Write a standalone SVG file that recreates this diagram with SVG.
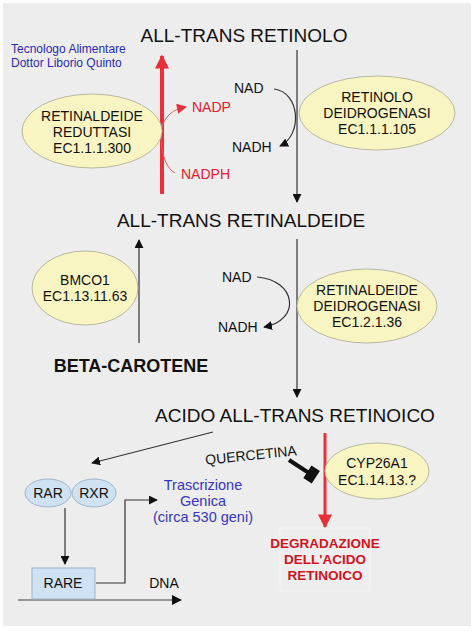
<svg xmlns="http://www.w3.org/2000/svg" width="474" height="631" viewBox="0 0 474 631">
<style>
text{font-family:"Liberation Sans",Arial,sans-serif;text-anchor:middle}
.title{font-size:19px;fill:#111}
.enz{font-size:14px;fill:#111}
.co{font-size:14px;fill:#111;text-anchor:start}
.red{fill:#e0202a}
.ell{fill:#f8f5c2;stroke:#b8b8a0;stroke-width:1}
.blue{fill:#cfe2f3;stroke:#9fb4c6;stroke-width:1}
.ln{fill:none;stroke:#333;stroke-width:1.2}
.tr{font-size:14.5px;fill:#3535c0}
</style>
<defs>
<marker id="ah" viewBox="0 0 10 10" refX="9" refY="5" markerWidth="9" markerHeight="9" markerUnits="userSpaceOnUse" orient="auto"><path d="M0,0L10,5L0,10z" fill="#111"/></marker>
<marker id="ahb" viewBox="0 0 10 10" refX="9" refY="5" markerWidth="12" markerHeight="10" markerUnits="userSpaceOnUse" orient="auto"><path d="M0,0L10,5L0,10z" fill="#111"/></marker>
<marker id="ahr" viewBox="0 0 10 10" refX="9" refY="5" markerWidth="12" markerHeight="10" markerUnits="userSpaceOnUse" orient="auto"><path d="M0,0L10,5L0,10z" fill="#e8303a"/></marker>
<marker id="ahR" viewBox="0 0 10 10" refX="9" refY="5" markerWidth="16" markerHeight="14" markerUnits="userSpaceOnUse" orient="auto"><path d="M0,0L10,5L0,10z" fill="#e8303a"/></marker>
</defs>
<rect width="474" height="631" fill="#ffffff"/>
<rect x="3" y="3" width="468" height="623" fill="#ededed"/>

<g id="connectors">
<line x1="162" y1="194" x2="162" y2="56" stroke="#e8303a" stroke-width="4" marker-end="url(#ahR)"/>
<path d="M175,173 C160,165 158,130 165,120 C170,112 176,109 186,107" fill="none" stroke="#d06060" stroke-width="1" marker-end="url(#ahr)"/>
<line x1="297" y1="50" x2="297" y2="202" class="ln" marker-end="url(#ah)"/>
<path d="M274,89 C300,92 303,135 280,146" class="ln" marker-end="url(#ah)"/>
<line x1="139" y1="343" x2="139" y2="240" class="ln" marker-end="url(#ah)"/>
<line x1="297" y1="239" x2="297" y2="397" class="ln" marker-end="url(#ah)"/>
<path d="M257,277 C296,280 302,320 264,327" class="ln" marker-end="url(#ah)"/>
<line x1="213" y1="432" x2="92" y2="463" class="ln" marker-end="url(#ah)"/>
<line x1="65" y1="508" x2="65" y2="564" class="ln" marker-end="url(#ah)"/>
<polyline points="96,583 125,583 125,500 157,500" class="ln" marker-end="url(#ah)"/>
<line x1="18" y1="600" x2="181" y2="600" stroke="#777" stroke-width="1.5" marker-end="url(#ahb)"/>
<line x1="325" y1="433" x2="325" y2="527" stroke="#e8303a" stroke-width="3" marker-end="url(#ahR)"/>
<line x1="289" y1="460" x2="312" y2="475" stroke="#111" stroke-width="4"/>
<rect x="306" y="468" width="10" height="15" fill="#111" transform="rotate(33 313 476)"/>
</g>

<g id="credit">
<text x="11" y="53" style="font-size:12px;fill:#2a2ab0;text-anchor:start">Tecnologo Alimentare</text>
<text x="11" y="67" style="font-size:12px;fill:#2a2ab0;text-anchor:start">Dottor Liborio Quinto</text>
</g>

<g id="retinolo"><text x="244" y="42" class="title">ALL-TRANS RETINOLO</text></g>
<g id="retinaldeide"><text x="241" y="227" class="title">ALL-TRANS RETINALDEIDE</text></g>
<g id="acido"><text x="295" y="422" class="title">ACIDO ALL-TRANS RETINOICO</text></g>
<g id="betacarotene"><text x="131" y="372" style="font-size:18px;font-weight:bold;fill:#111">BETA-CAROTENE</text></g>

<g id="reduttasi">
<ellipse cx="92" cy="131" rx="70" ry="37" class="ell"/>
<text x="92" y="121" class="enz">RETINALDEIDE</text>
<text x="92" y="137" class="enz">REDUTTASI</text>
<text x="92" y="153" class="enz">EC1.1.1.300</text>
</g>
<g id="nadp"><text x="192" y="112" class="co red">NADP</text></g>
<g id="nadph"><text x="181" y="179" class="co red">NADPH</text></g>

<g id="retinolo-deidrogenasi">
<ellipse cx="377" cy="113" rx="78" ry="37" class="ell"/>
<text x="377" y="102" class="enz">RETINOLO</text>
<text x="377" y="118" class="enz">DEIDROGENASI</text>
<text x="377" y="134" class="enz">EC1.1.1.105</text>
</g>
<g id="nad1"><text x="234" y="93" class="co">NAD</text></g>
<g id="nadh1"><text x="232" y="152" class="co">NADH</text></g>

<g id="bmco1">
<ellipse cx="85" cy="288" rx="53" ry="37" class="ell"/>
<text x="85" y="285" class="enz">BMCO1</text>
<text x="85" y="301" class="enz">EC1.13.11.63</text>
</g>

<g id="retinaldeide-deidrogenasi">
<ellipse cx="367" cy="306" rx="70" ry="37" class="ell"/>
<text x="367" y="295" class="enz">RETINALDEIDE</text>
<text x="367" y="311" class="enz">DEIDROGENASI</text>
<text x="367" y="327" class="enz">EC1.2.1.36</text>
</g>
<g id="nad2"><text x="222" y="282" class="co">NAD</text></g>
<g id="nadh2"><text x="218" y="332" class="co">NADH</text></g>

<g id="rar">
<ellipse cx="48" cy="493" rx="23" ry="14" class="blue"/>
<text x="48" y="498" class="enz">RAR</text>
</g>
<g id="rxr">
<ellipse cx="94" cy="493" rx="22" ry="14" class="blue"/>
<text x="94" y="498" class="enz">RXR</text>
</g>
<g id="rare">
<rect x="32" y="568" width="63" height="31" class="blue"/>
<text x="63" y="588" class="enz">RARE</text>
</g>
<g id="dna"><text x="164" y="588" class="enz">DNA</text></g>
<g id="trascrizione">
<text x="203" y="490" class="tr">Trascrizione</text>
<text x="203" y="506" class="tr">Genica</text>
<text x="203" y="522" class="tr">(circa 530 geni)</text>
</g>

<g id="quercetina"><text x="251" y="460" class="enz" transform="rotate(-6 251 455)">QUERCETINA</text></g>

<g id="cyp26a1">
<ellipse cx="377" cy="471" rx="52" ry="28" class="ell"/>
<text x="377" y="468" class="enz">CYP26A1</text>
<text x="377" y="485" class="enz">EC1.14.13.?</text>
</g>

<g id="degradazione">
<rect x="280" y="528" width="90" height="63" fill="#eeeeee" stroke="#f4f4f4" stroke-width="1"/>
<text x="325" y="548" style="font-size:13.5px;font-weight:bold;fill:#d0141e">DEGRADAZIONE</text>
<text x="325" y="564" style="font-size:13.5px;font-weight:bold;fill:#d0141e">DELL'ACIDO</text>
<text x="325" y="580" style="font-size:13.5px;font-weight:bold;fill:#d0141e">RETINOICO</text>
</g>
</svg>
